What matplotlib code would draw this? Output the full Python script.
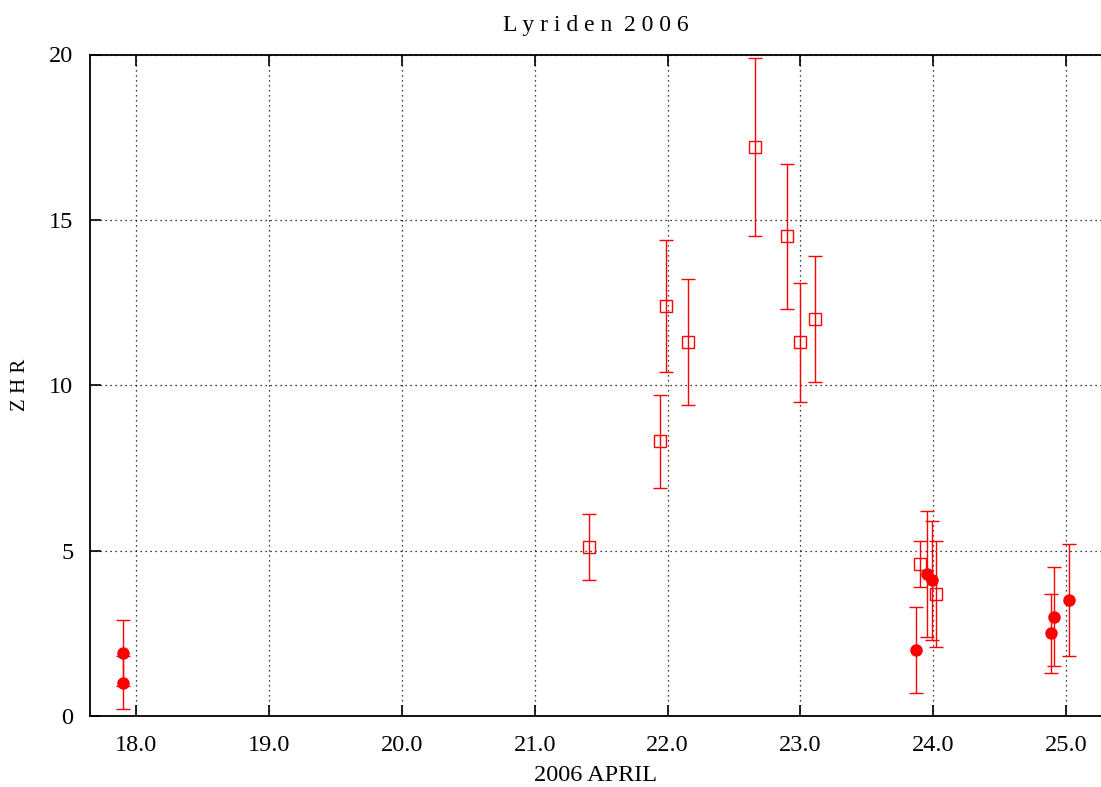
import matplotlib
matplotlib.use("Agg")
import matplotlib.pyplot as plt
import numpy as np

# open squares (one observation set)
sq_x = [21.41, 21.94, 21.99, 22.15, 22.66, 22.90, 23.00, 23.11, 23.90, 24.02]
sq_y = [5.1, 8.3, 12.4, 11.3, 17.2, 14.5, 11.3, 12.0, 4.6, 3.7]
sq_err = [1.0, 1.4, 2.0, 1.9, 2.7, 2.2, 1.8, 1.9, 0.7, 1.6]

# filled circles (second observation set)
ci_x = [17.90, 17.90, 23.87, 23.95, 23.99, 24.89, 24.91, 25.02]
ci_y = [1.9, 1.0, 2.0, 4.3, 4.1, 2.5, 3.0, 3.5]
ci_err = [1.0, 0.8, 1.3, 1.9, 1.8, 1.2, 1.5, 1.7]

x_ticks = [18.0, 19.0, 20.0, 21.0, 22.0, 23.0, 24.0, 25.0]
y_ticks = [0, 5, 10, 15, 20]

plt.rcParams["font.family"] = ["Liberation Serif", "DejaVu Serif"]

fig = plt.figure(figsize=(11.01, 7.87), dpi=100)
ax = fig.add_axes([90 / 1101, 1 - 716 / 787, 1 - 90 / 1101, (716 - 54.5) / 787])

ax.errorbar(sq_x, sq_y, yerr=sq_err, fmt="s", color="red", mfc="none",
            mec="red", ms=8, mew=1.0, elinewidth=1.0, capsize=5, capthick=1.0,
            zorder=3)
ax.errorbar(ci_x, ci_y, yerr=ci_err, fmt="o", color="red", mfc="red",
            mec="red", ms=8, elinewidth=1.0, capsize=5, capthick=1.0,
            zorder=3)

ax.set_xlim(17.65, 25.263)
ax.set_ylim(0, 20)
ax.set_xticks(x_ticks)
ax.set_xticklabels([f"{t:.1f}" for t in x_ticks])
ax.set_yticks(y_ticks)

ax.grid(True, color="black", linestyle=(0, (1, 3)), linewidth=0.9)
ax.set_axisbelow(True)
ax.tick_params(direction="in", length=8, width=1.2, top=True, labelsize=17.5,
               pad=12)
ax.tick_params(axis="x", pad=14)
for s in ["left", "bottom", "top"]:
    ax.spines[s].set_linewidth(1.3)
ax.spines["right"].set_visible(False)

ax.set_title("L y r i d e n  2 0 0 6", fontsize=17, pad=17)
ax.set_xlabel("2006 APRIL", fontsize=17.5, labelpad=6)
ax.set_ylabel("Z H R", fontsize=15, labelpad=14)

fig.savefig("out.png", dpi=100)
